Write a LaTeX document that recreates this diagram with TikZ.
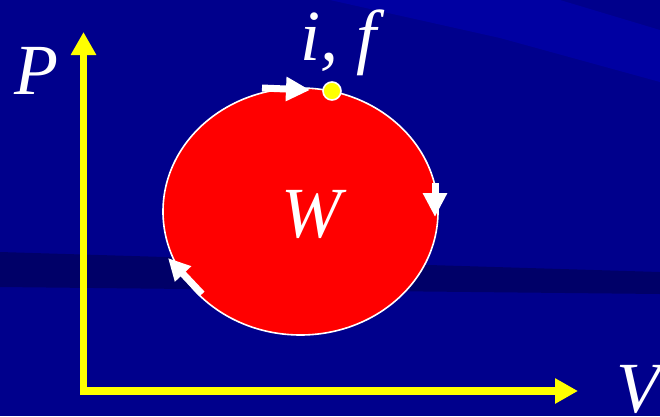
\documentclass[tikz,border=0pt]{standalone}
\usepackage{fontspec}
\setmainfont{Liberation Serif}
\usetikzlibrary{arrows.meta,shapes.geometric}
\definecolor{bgblue}{RGB}{0,0,140}
\definecolor{bglight}{RGB}{0,0,162}
\definecolor{bgdark}{RGB}{0,0,104}
\definecolor{axisyellow}{RGB}{255,255,0}
\definecolor{loopred}{RGB}{255,0,0}
\tikzset{
  axis/.style={draw=axisyellow, line width=7.5pt, line join=miter,
    {Triangle[length=23pt,width=24pt]}-{Triangle[length=23pt,width=24pt]}},
  flowarrow/.style={draw=white, line width=7pt,
    -{Triangle[length=24pt,width=23pt]}},
  lbl/.style={text=white, inner sep=0pt, font=\fontsize{72}{72}\selectfont\itshape},
  loopshape/.style={ellipse, fill=loopred, draw=white, line width=1.6pt, inner sep=0pt},
  statedot/.style={circle, fill=axisyellow, draw=white, line width=1.6pt, inner sep=0pt, minimum size=18pt}
}
\begin{document}
\begin{tikzpicture}[x=1pt,y=-1pt]
\useasboundingbox (0,0) rectangle (660,416);
% background
\fill[bgblue] (0,0) rectangle (660,416);
\fill[bglight] (330,0) -- (560,0) -- (660,30) -- (660,82) -- (500,38) -- cycle;
\fill[bgdark] (0,252) -- (660,272) -- (660,294) -- (0,287) -- cycle;
% loop
\node[loopshape, minimum width=275pt, minimum height=247pt] (loop) at (300.5,211.5) {};
\node[lbl] (W) at (311,237) [anchor=base] {W};
% axes
\coordinate (O) at (83.5,391);
\coordinate (ptop) at (83.5,32);
\coordinate (vend) at (578,391);
\draw[axis] (ptop) -- (O) -- (vend);
\node[lbl, anchor=base west] (P) at (14,94) {P};
\node[lbl, anchor=base west] (V) at (616,412) {V};
% process arrows
\coordinate (a1s) at (262,88);
\coordinate (a1e) at (310,90);
\coordinate (a2s) at (435,183);
\coordinate (a2e) at (435,217);
\coordinate (a3s) at (202,294);
\coordinate (a3e) at (168,258);
\draw[flowarrow] (a1s) -- (a1e);
\draw[flowarrow] (a2s) -- (a2e);
\draw[flowarrow, -{Triangle[length=22pt,width=21pt]}] (a3s) -- (a3e);
% initial/final state
\node[statedot] (if) at (332,91) {};
\node[lbl, anchor=base west] (iflbl) at (300,60) {i, f};
\end{tikzpicture}
\end{document}
